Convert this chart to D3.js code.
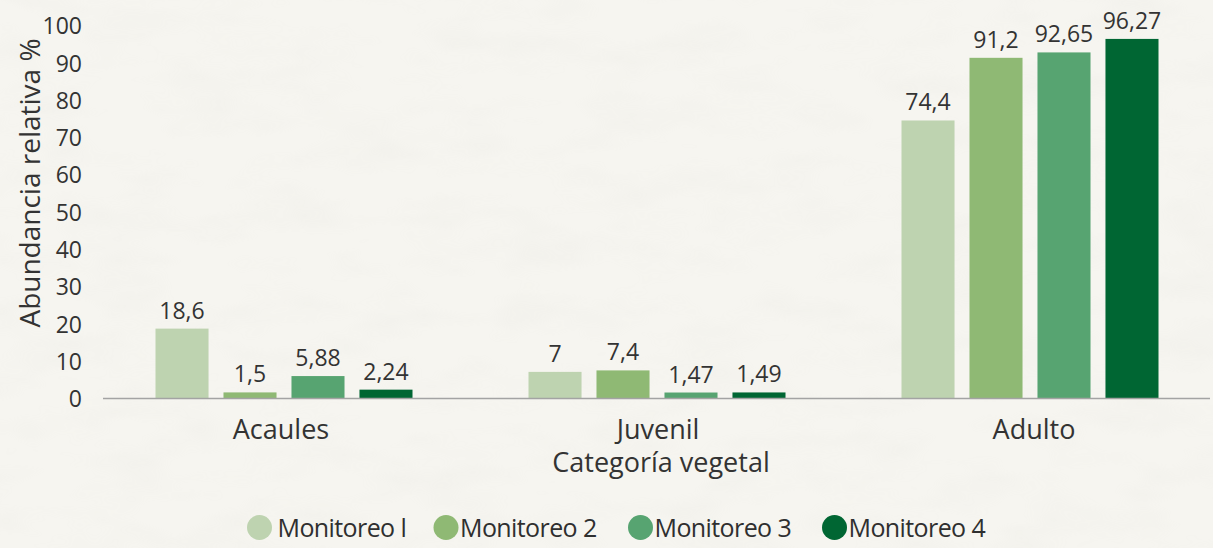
<!DOCTYPE html>
<html lang="es">
<head>
<meta charset="utf-8">
<script src="https://cdn.jsdelivr.net/npm/d3@7"></script>
<style>
  html, body { margin: 0; padding: 0; background: #f6f5f0; }
  svg { display: block; font-family: "Open Sans", "Noto Sans", sans-serif; }
</style>
</head>
<body>
<svg id="chart" width="1213" height="548"></svg>
<script>
// Categorías vegetales y series por monitoreo (abundancia relativa, %)
const categories = ["Acaules", "Juvenil", "Adulto"];
const seriesNames = ["Monitoreo l", "Monitoreo 2", "Monitoreo 3", "Monitoreo 4"];
const monitoreo1 = [18.6, 7, 74.4];
const monitoreo2 = [1.5, 7.4, 91.2];
const monitoreo3 = [5.88, 1.47, 92.65];
const monitoreo4 = [2.24, 1.49, 96.27];
const yTicks = [0, 10, 20, 30, 40, 50, 60, 70, 80, 90, 100];
const seriesColors = ["#bed3b0", "#8fb974", "#57a471", "#006633"];

const seriesValues = [monitoreo1, monitoreo2, monitoreo3, monitoreo4];
const fmt = v => String(v).replace(".", ",");

const svg = d3.select("#chart");
const W = 1213, H = 548;

// Paper-like background texture
const defs = svg.append("defs");
const paper = defs.append("filter").attr("id", "paper")
  .attr("x", 0).attr("y", 0).attr("width", "100%").attr("height", "100%");
paper.append("feTurbulence").attr("type", "fractalNoise")
  .attr("baseFrequency", "0.012 0.03").attr("numOctaves", 3).attr("seed", 7).attr("result", "n");
paper.append("feColorMatrix").attr("type", "matrix")
  .attr("values", "0 0 0 0 0.55  0 0 0 0 0.55  0 0 0 0 0.5  0 0 0 0.9 -0.38");
svg.append("rect").attr("width", W).attr("height", H).attr("fill", "#f6f5f0");
svg.append("rect").attr("width", W).attr("height", H).attr("filter", "url(#paper)").attr("opacity", 0.15);

const x0 = d3.scaleBand().domain(categories).range([97.5, 1216.5]).paddingInner(0).paddingOuter(0);
const x1 = d3.scaleBand().domain(d3.range(seriesNames.length)).range([58, 315]).paddingInner(0.22).paddingOuter(0);
const y = d3.scaleLinear().domain([0, 100]).range([398, 25]);

// Y axis: labels only
const yAxis = svg.append("g").attr("transform", "translate(82,0)")
  .call(d3.axisLeft(y).tickValues(yTicks).tickSize(0).tickPadding(0));
yAxis.select(".domain").remove();
yAxis.selectAll("text")
  .attr("font-family", "'Open Sans', sans-serif")
  .attr("font-size", 23).attr("fill", "#333333").attr("dy", "0.38em");

// Bars
const groups = svg.append("g").selectAll("g").data(categories).join("g")
  .attr("transform", c => `translate(${x0(c)},0)`);

groups.each(function(c, ci) {
  const g = d3.select(this);
  seriesValues.forEach((vals, si) => {
    const v = vals[ci];
    g.append("rect")
      .attr("x", x1(si)).attr("width", x1.bandwidth())
      .attr("y", y(v)).attr("height", y(0) - y(v))
      .attr("fill", seriesColors[si]);
    g.append("text")
      .attr("x", x1(si) + x1.bandwidth() / 2).attr("y", y(v) - 10)
      .attr("text-anchor", "middle")
      .attr("font-size", 23).attr("fill", "#333333")
      .text(fmt(v));
  });
});

// Baseline
svg.append("line")
  .attr("x1", 103).attr("x2", 1210).attr("y1", y(0) + 0.5).attr("y2", y(0) + 0.5)
  .attr("stroke", "#a3a3a3").attr("stroke-width", 1.5);

// Category labels
const xAxis = svg.append("g").attr("transform", `translate(0,${y(0)})`)
  .call(d3.axisBottom(x0).tickSize(0).tickPadding(0));
xAxis.select(".domain").remove();
xAxis.selectAll("text")
  .attr("font-family", "'Open Sans', sans-serif")
  .attr("font-size", 27).attr("fill", "#333333").attr("dy", "1.5em")
  .attr("transform", (d, i) => `translate(${[-3, 1, 4][i]},0)`);

// Axis titles
svg.append("text")
  .attr("x", 661).attr("y", 472).attr("text-anchor", "middle")
  .attr("font-size", 27).attr("fill", "#333333")
  .text("Categoría vegetal");

svg.append("text")
  .attr("transform", "translate(40,183) rotate(-90)")
  .attr("text-anchor", "middle")
  .attr("font-size", 28).attr("fill", "#333333")
  .text("Abundancia relativa %");

// Legend
const legendX = [259.5, 446, 640.5, 834.5];
const legend = svg.append("g").selectAll("g").data(seriesNames).join("g")
  .attr("transform", (d, i) => `translate(${legendX[i]},527.5)`);
legend.append("circle").attr("r", 12.5).attr("fill", (d, i) => seriesColors[i]);
legend.append("text")
  .attr("x", (d, i) => i === 0 ? 18 : 14).attr("dy", "0.36em")
  .attr("font-size", 25).attr("fill", "#2f2f2f")
  .attr("letter-spacing", -0.6)
  .text(d => d);
</script>
</body>
</html>
